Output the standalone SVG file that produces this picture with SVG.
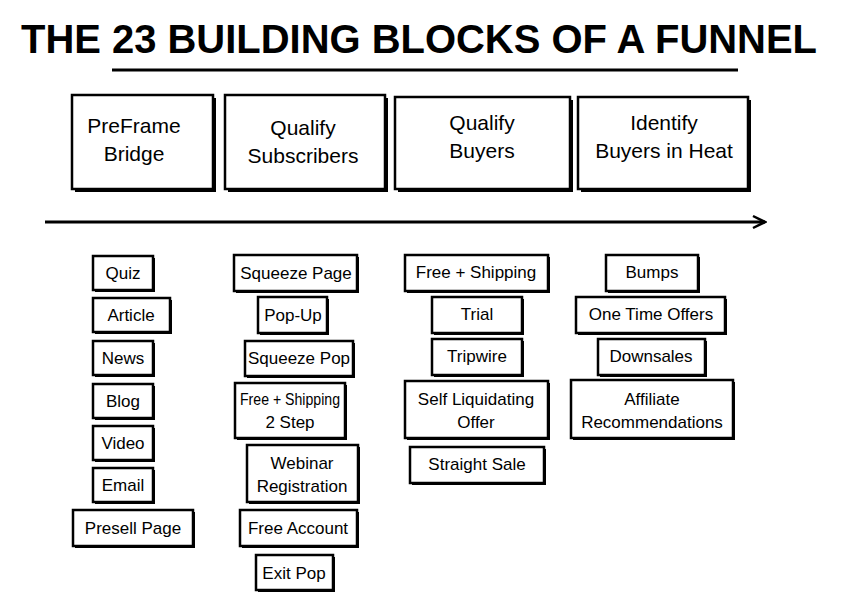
<svg xmlns="http://www.w3.org/2000/svg" width="841" height="597" viewBox="0 0 841 597">
<style>
.b{fill:#fff;stroke:#000;stroke-width:2.5}
.s{fill:#000}
text{font-family:"Liberation Sans",Arial,sans-serif;fill:#000;text-anchor:middle}
.t{font-size:17px}
.h{font-size:21px}
</style>
<defs><marker id="ar" markerWidth="16" markerHeight="16" refX="14" refY="8" orient="auto" markerUnits="userSpaceOnUse"><path d="M2,2 L14,8 L2,14" fill="none" stroke="#000" stroke-width="2.5"/></marker></defs>
<rect width="841" height="597" fill="#fff"/>
<g id="title"><text x="419" y="53" font-size="40" font-weight="bold" textLength="796" lengthAdjust="spacingAndGlyphs">THE 23 BUILDING BLOCKS OF A FUNNEL</text>
<line x1="112" y1="70" x2="738" y2="70" stroke="#000" stroke-width="3"/></g>
<g id="connectors"><line x1="45" y1="222" x2="765" y2="222" stroke="#000" stroke-width="3" marker-end="url(#ar)"/></g>
<g id="h1"><rect class="s" x="75" y="98" width="141" height="94"/><rect class="b" x="72" y="95" width="141" height="94"/><text class="h" x="134" y="133">PreFrame</text><text class="h" x="134" y="161">Bridge</text></g>
<g id="h2"><rect class="s" x="228" y="98" width="160" height="94"/><rect class="b" x="225" y="95" width="160" height="94"/><text class="h" x="303" y="135">Qualify</text><text class="h" x="303" y="163">Subscribers</text></g>
<g id="h3"><rect class="s" x="398" y="100" width="175" height="92"/><rect class="b" x="395" y="97" width="175" height="92"/><text class="h" x="482" y="130">Qualify</text><text class="h" x="482" y="158">Buyers</text></g>
<g id="h4"><rect class="s" x="581" y="100" width="170" height="92"/><rect class="b" x="578" y="97" width="170" height="92"/><text class="h" x="664" y="130">Identify</text><text class="h" x="664" y="158">Buyers in Heat</text></g>
<g id="quiz"><rect class="s" x="95" y="258" width="60" height="34"/><rect class="b" x="93" y="256" width="60" height="34"/><text class="t" x="123" y="279">Quiz</text></g>
<g id="article"><rect class="s" x="95" y="300" width="77" height="34"/><rect class="b" x="93" y="298" width="77" height="34"/><text class="t" x="131" y="321">Article</text></g>
<g id="news"><rect class="s" x="95" y="343" width="60" height="34"/><rect class="b" x="93" y="341" width="60" height="34"/><text class="t" x="123" y="364">News</text></g>
<g id="blog"><rect class="s" x="95" y="386" width="60" height="34"/><rect class="b" x="93" y="384" width="60" height="34"/><text class="t" x="123" y="407">Blog</text></g>
<g id="video"><rect class="s" x="95" y="428" width="60" height="34"/><rect class="b" x="93" y="426" width="60" height="34"/><text class="t" x="123" y="449">Video</text></g>
<g id="email"><rect class="s" x="95" y="470" width="60" height="34"/><rect class="b" x="93" y="468" width="60" height="34"/><text class="t" x="123" y="491">Email</text></g>
<g id="presell"><rect class="s" x="75" y="512" width="120" height="36"/><rect class="b" x="73" y="510" width="120" height="36"/><text class="t" x="133" y="534">Presell Page</text></g>
<g id="squeeze"><rect class="s" x="236" y="257" width="123" height="36"/><rect class="b" x="234" y="255" width="123" height="36"/><text class="t" x="296" y="279">Squeeze Page</text></g>
<g id="popup"><rect class="s" x="260" y="299" width="69" height="36"/><rect class="b" x="258" y="297" width="69" height="36"/><text class="t" x="293" y="321">Pop-Up</text></g>
<g id="sqpop"><rect class="s" x="247" y="343" width="108" height="35"/><rect class="b" x="245" y="341" width="108" height="35"/><text class="t" x="299" y="364">Squeeze Pop</text></g>
<g id="fs2"><rect class="s" x="237" y="385" width="110" height="55"/><rect class="b" x="235" y="383" width="110" height="55"/><text class="t" x="290" y="405" font-size="15" textLength="100" lengthAdjust="spacingAndGlyphs">Free + Shipping</text><text class="t" x="290" y="428">2 Step</text></g>
<g id="webinar"><rect class="s" x="249" y="447" width="111" height="57"/><rect class="b" x="247" y="445" width="111" height="57"/><text class="t" x="302" y="469">Webinar</text><text class="t" x="302" y="492">Registration</text></g>
<g id="freeacc"><rect class="s" x="242" y="512" width="117" height="36"/><rect class="b" x="240" y="510" width="117" height="36"/><text class="t" x="298" y="534">Free Account</text></g>
<g id="exitpop"><rect class="s" x="258" y="557" width="77" height="35"/><rect class="b" x="256" y="555" width="77" height="35"/><text class="t" x="294" y="579">Exit Pop</text></g>
<g id="fs"><rect class="s" x="407" y="257" width="143" height="36"/><rect class="b" x="405" y="255" width="143" height="36"/><text class="t" x="476" y="278">Free + Shipping</text></g>
<g id="trial"><rect class="s" x="434" y="299" width="90" height="36"/><rect class="b" x="432" y="297" width="90" height="36"/><text class="t" x="477" y="320">Trial</text></g>
<g id="tripwire"><rect class="s" x="434" y="341" width="90" height="36"/><rect class="b" x="432" y="339" width="90" height="36"/><text class="t" x="477" y="362">Tripwire</text></g>
<g id="slo"><rect class="s" x="407" y="383" width="143" height="57"/><rect class="b" x="405" y="381" width="143" height="57"/><text class="t" x="476" y="405">Self Liquidating</text><text class="t" x="476" y="428">Offer</text></g>
<g id="straight"><rect class="s" x="412" y="449" width="134" height="36"/><rect class="b" x="410" y="447" width="134" height="36"/><text class="t" x="477" y="470">Straight Sale</text></g>
<g id="bumps"><rect class="s" x="608" y="257" width="92" height="36"/><rect class="b" x="606" y="255" width="92" height="36"/><text class="t" x="652" y="278">Bumps</text></g>
<g id="oto"><rect class="s" x="578" y="299" width="149" height="36"/><rect class="b" x="576" y="297" width="149" height="36"/><text class="t" x="651" y="320">One Time Offers</text></g>
<g id="downsales"><rect class="s" x="600" y="341" width="107" height="36"/><rect class="b" x="598" y="339" width="107" height="36"/><text class="t" x="651" y="362">Downsales</text></g>
<g id="affiliate"><rect class="s" x="573" y="382" width="162" height="58"/><rect class="b" x="571" y="380" width="162" height="58"/><text class="t" x="652" y="405">Affiliate</text><text class="t" x="652" y="428">Recommendations</text></g>
</svg>
